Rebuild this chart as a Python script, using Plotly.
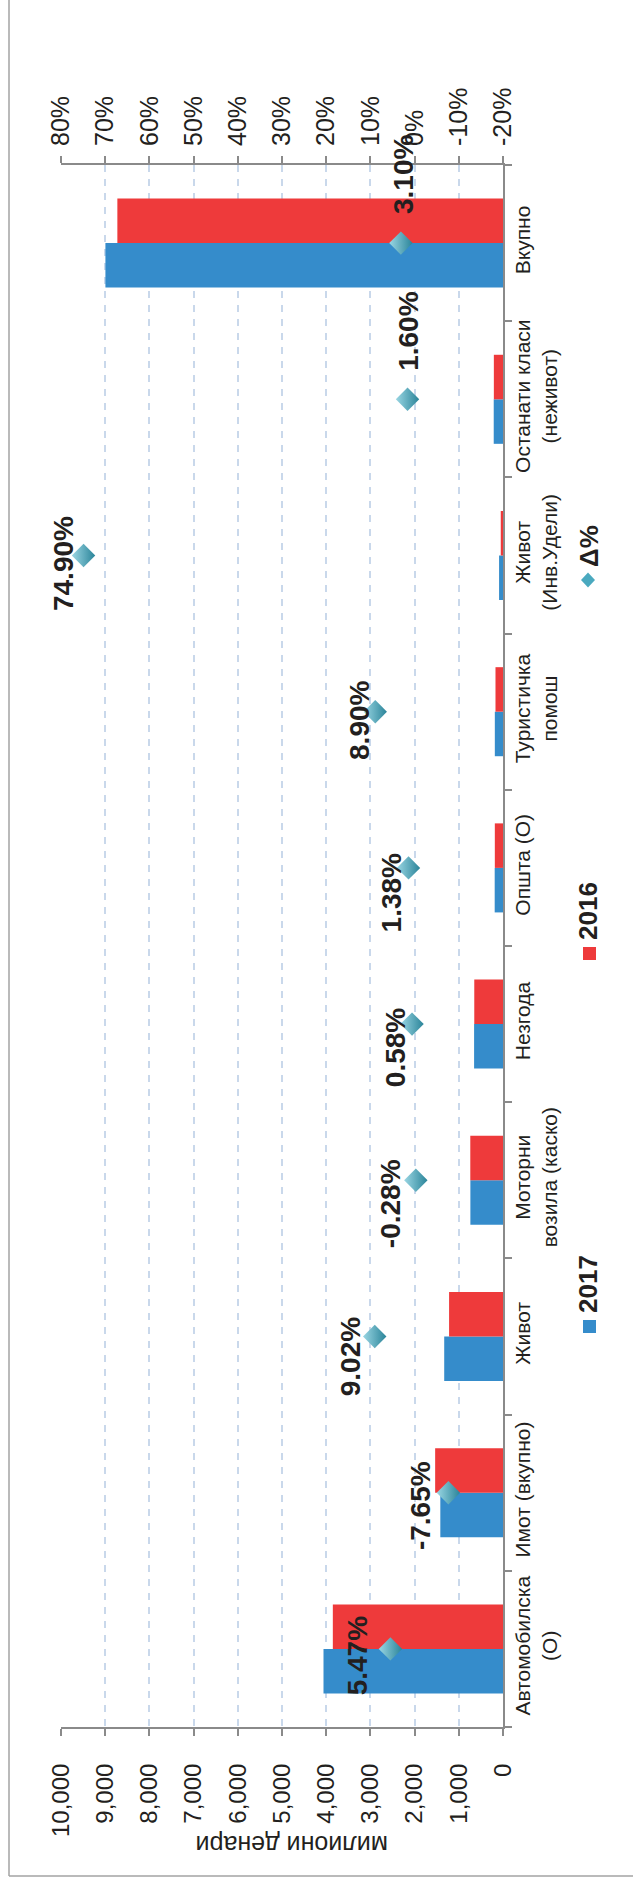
import plotly.graph_objects as go

# ---------------- data ----------------
categories = [
    "Автомобилска<br>(О)",
    "Имот (вкупно)",
    "Живот",
    "Моторни<br>возила (каско)",
    "Незгода",
    "Општа (О)",
    "Туристичка<br>помош",
    "Живот<br>(Инв.Удели)",
    "Останати класи<br>(неживот)",
    "Вкупно",
]
values_2017 = [4061, 1418, 1330, 738, 654, 188, 185, 89, 210, 8995]
values_2016 = [3850, 1535, 1220, 740, 650, 185, 170, 51, 207, 8725]
delta_pct = [5.47, -7.65, 9.02, -0.28, 0.58, 1.38, 8.90, 74.90, 1.60, 3.10]

value_ticks = [0, 1000, 2000, 3000, 4000, 5000, 6000, 7000, 8000, 9000, 10000]
value_tick_labels = ["0", "1,000", "2,000", "3,000", "4,000", "5,000",
                     "6,000", "7,000", "8,000", "9,000", "10,000"]
pct_ticks = [-20, -10, 0, 10, 20, 30, 40, 50, 60, 70, 80]
pct_tick_labels = ["-20%", "-10%", "0%", "10%", "20%", "30%", "40%",
                   "50%", "60%", "70%", "80%"]

series_names = ["2017", "2016", "Δ%"]
axis_title = "милиони денари"

# label nudges (pixels: right, down) for the percentage labels
label_nudge = [(-33, 7), (-28, 13), (-24, 20), (-26, 23), (-17, 24),
               (-17, 25), (-16, 9), (-20, 8), (1, -68), (2, -69)]

# ---------------- style ----------------
W, H = 633, 1890
L, R, T, B = 61, 503, 165, 1727
FONT = "Liberation Sans, Arial, sans-serif"
TXT = "#231f20"
AXC = "#8a8a8a"
BLUE = "#358ccb"
RED = "#ee3a3b"
TEAL = "#4aa9bf"


def px(xp):
    return (xp - L) / (R - L)


def py(yp):
    return (B - yp) / (B - T)


fig = go.Figure()
fig.add_trace(go.Bar(name=series_names[0], orientation="h", y=categories, x=values_2017,
                     marker=dict(color=BLUE, line=dict(width=0)), xaxis="x", yaxis="y"))
fig.add_trace(go.Bar(name=series_names[1], orientation="h", y=categories, x=values_2016,
                     marker=dict(color=RED, line=dict(width=0)), xaxis="x", yaxis="y"))
fig.add_trace(go.Scatter(name=series_names[2], x=delta_pct, y=categories, mode="markers",
                         xaxis="x2", yaxis="y",
                         marker=dict(symbol="diamond", size=18, color="#9ad6e3",
                                     gradient=dict(type="horizontal", color="#2a8499"),
                                     line=dict(width=0))))

annotations = []
for cat, p, (dx, dy) in zip(categories, delta_pct, label_nudge):
    annotations.append(dict(
        x=p, y=cat, xref="x2", yref="y", text=f"{p:.2f}%", showarrow=False,
        textangle=-90, xanchor="center", yanchor="middle", xshift=dx, yshift=-dy,
        font=dict(family=FONT, size=28, color=TXT, weight="bold")))

# legend (rotated) texts
annotations += [
    dict(x=px(588), y=py(1284), xref="paper", yref="paper", text=series_names[0],
         showarrow=False, textangle=-90, xanchor="center", yanchor="middle",
         font=dict(family=FONT, size=26, color=TXT, weight="bold")),
    dict(x=px(588), y=py(911), xref="paper", yref="paper", text=series_names[1],
         showarrow=False, textangle=-90, xanchor="center", yanchor="middle",
         font=dict(family=FONT, size=26, color=TXT, weight="bold")),
    dict(x=px(589), y=py(546), xref="paper", yref="paper", text=series_names[2],
         showarrow=False, textangle=-90, xanchor="center", yanchor="middle",
         font=dict(family=FONT, size=26, color=TXT, weight="bold")),
    dict(x=px(292), y=py(1845), xref="paper", yref="paper", text=axis_title,
         showarrow=False, textangle=180, xanchor="center", yanchor="middle",
         font=dict(family=FONT, size=25, color=TXT)),
]

shapes = [
    # legend markers
    dict(type="rect", xref="paper", yref="paper", x0=px(583), x1=px(596), y0=py(1333), y1=py(1320),
         fillcolor=BLUE, line=dict(width=0)),
    dict(type="rect", xref="paper", yref="paper", x0=px(583), x1=px(596), y0=py(960), y1=py(947),
         fillcolor=RED, line=dict(width=0)),
    dict(type="path", xref="paper", yref="paper",
         path=f"M {px(581)} {py(580)} L {px(588)} {py(572.5)} L {px(595)} {py(580)} L {px(588)} {py(587.5)} Z",
         fillcolor=TEAL, line=dict(width=0)),
    # outer frame (left and bottom)
    dict(type="line", xref="paper", yref="paper", x0=px(9), x1=px(9), y0=py(-5), y1=py(1876),
         line=dict(color="#a3a3a3", width=1.5)),
    dict(type="line", xref="paper", yref="paper", x0=px(9), x1=px(640), y0=py(1876), y1=py(1876),
         line=dict(color="#a3a3a3", width=1.5)),
]

fig.update_layout(
    width=W, height=H, autosize=False,
    margin=dict(l=L, r=W - R, t=T, b=H - B, pad=0),
    paper_bgcolor="white", plot_bgcolor="white",
    showlegend=False,
    barmode="group", bargap=0.43, bargroupgap=0,
    font=dict(family=FONT, color=TXT),
    xaxis=dict(range=[10000, 0], tickvals=value_ticks, ticktext=value_tick_labels,
               tickangle=-90, tickfont=dict(size=24, color=TXT),
               showgrid=True, gridcolor="#c9d8eb", gridwidth=1.5, griddash="7px,7px",
               zeroline=False, showline=True, linecolor=AXC, linewidth=2,
               ticks="outside", ticklen=7, tickwidth=2, tickcolor=AXC,
               anchor="y", side="bottom", ticklabelstandoff=18),
    xaxis2=dict(range=[80, -20], tickvals=pct_ticks, ticktext=pct_tick_labels,
                tickangle=-90, tickfont=dict(size=25, color=TXT),
                overlaying="x", side="top", anchor="y",
                showgrid=False, zeroline=False, showline=True, linecolor=AXC, linewidth=2,
                ticks="outside", ticklen=7, tickwidth=2, tickcolor=AXC,
                ticklabelstandoff=5),
    yaxis=dict(type="category", side="right", range=[-0.5, 9.5],
               tickangle=-90, tickfont=dict(size=21, color=TXT),
               showgrid=False, zeroline=False, showline=True, linecolor=AXC, linewidth=2,
               ticks="outside", tickson="boundaries", ticklen=7, tickwidth=2, tickcolor=AXC),
    annotations=annotations,
    shapes=shapes,
)

fig.write_html("out.html")
